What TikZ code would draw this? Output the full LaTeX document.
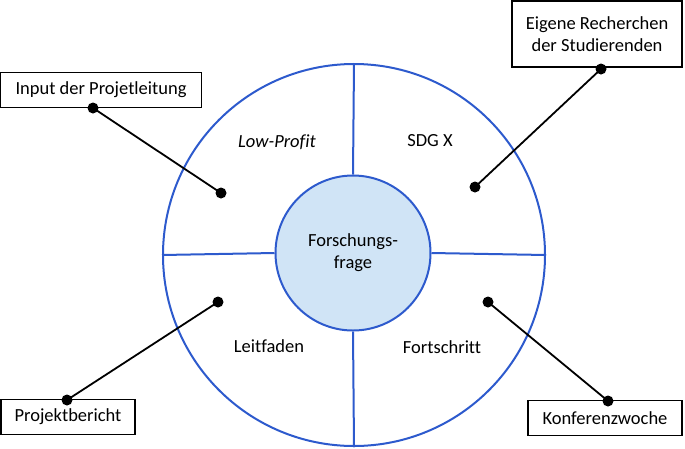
\documentclass[tikz,border=0pt]{standalone}
\usepackage{fontspec}
\setmainfont{Carlito}[Ligatures=NoCommon]
\usetikzlibrary{positioning}
\definecolor{ringblue}{RGB}{45,90,205}
\definecolor{corefill}{RGB}{208,228,246}
\tikzstyle{infobox} = [rectangle, draw=black, fill=white, line width=1.3pt, text centered, align=center, inner sep=2pt]
\tikzstyle{ring} = [circle, draw=ringblue, line width=2pt, inner sep=0pt]
\tikzstyle{segtext} = [text centered]
\tikzstyle{dot} = [circle, fill=black, inner sep=0pt, minimum size=11pt]
\tikzstyle{link} = [line width=1.8pt, black]

\begin{document}
\begin{tikzpicture}[x=1pt, y=-1pt, font=\fontsize{18.5}{22}\selectfont]
\useasboundingbox (0,0) rectangle (685,448);

% Rings
\node (outer) [ring, minimum size=382pt] at (354,255) {};
\node (core) [ring, fill=corefill, minimum size=155pt, align=center] at (353,253) {Forschungs-\\frage};

% Spokes
\draw [ringblue, line width=2pt] (outer.north) -- (core.north);
\draw [ringblue, line width=2pt] (core.south) -- (outer.south);
\draw [ringblue, line width=2pt] (outer.west) -- (core.west);
\draw [ringblue, line width=2pt] (core.east) -- (outer.east);

% Segment texts
\node (lowprofit) [segtext] at (277,142) {\itshape Low-Profit};
\node (sdg) [segtext] at (430,141) {SDG X};
\node (leitfaden) [segtext] at (269,346) {Leitfaden};
\node (fortschritt) [segtext] at (442,347) {Fortschritt};

% Boxes
\node (input) [infobox, minimum width=201pt, minimum height=35pt] at (101,90) {Input der Projetleitung};
\node (recherche) [infobox, minimum width=170pt, minimum height=66pt] at (597,34) {Eigene Recherchen\\der Studierenden};
\node (bericht) [infobox, minimum width=134pt, minimum height=35pt] at (68,417) {Projektbericht};
\node (konferenz) [infobox, minimum width=154pt, minimum height=35pt] at (605,418) {Konferenzwoche};

% Dot ends
\coordinate (inputend) at (93,108);
\coordinate (inputin) at (221,193);
\coordinate (rechercheend) at (601,69);
\coordinate (recherchein) at (475,187);
\coordinate (berichtend) at (67,400);
\coordinate (berichtin) at (218,302);
\coordinate (konferenzend) at (608,401);
\coordinate (konferenzin) at (488,302);

% Links
\draw [link] (inputend) -- (inputin);
\draw [link] (rechercheend) -- (recherchein);
\draw [link] (berichtend) -- (berichtin);
\draw [link] (konferenzend) -- (konferenzin);
\foreach \p in {inputend, inputin, rechercheend, recherchein, berichtend, berichtin, konferenzend, konferenzin}
  \node [dot] at (\p) {};

\end{tikzpicture}
\end{document}
